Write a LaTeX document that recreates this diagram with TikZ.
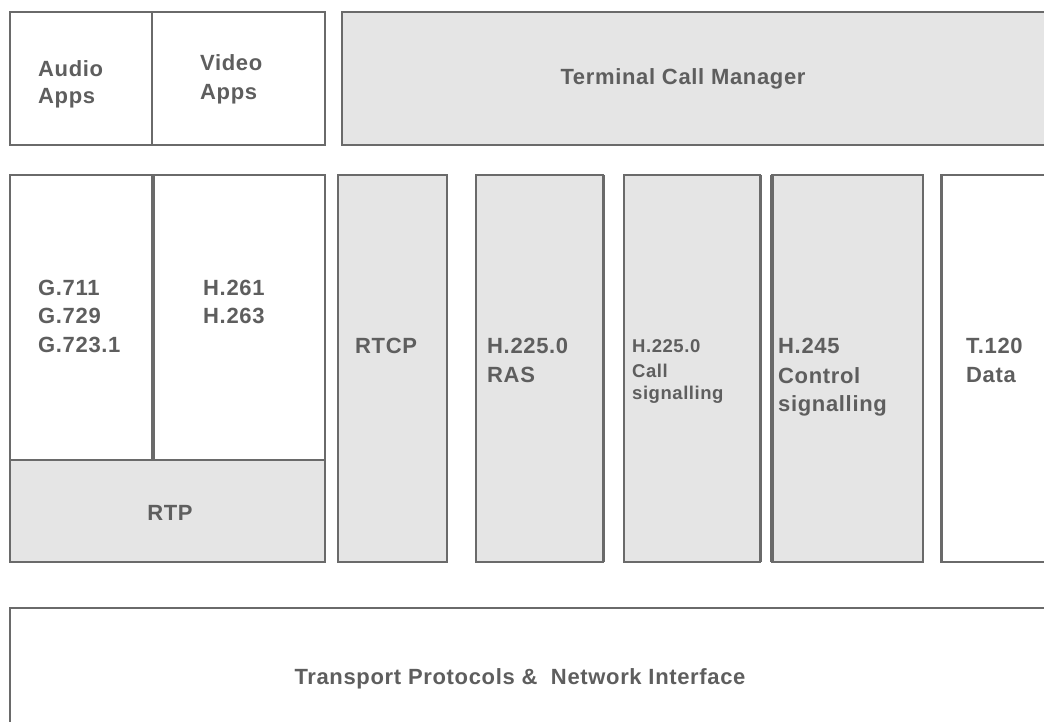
\documentclass[tikz,border=0pt]{standalone}
\usepackage{fontspec}
\newfontfamily\lblfont{Liberation Sans}[LetterSpace=3]
\definecolor{edge}{HTML}{6A6A6A}
\definecolor{panel}{HTML}{E5E5E5}
\definecolor{ink}{HTML}{5E5E5E}
\begin{document}
\begin{tikzpicture}[x=1pt,y=-1pt,
  box/.style={draw=edge, line width=2.4pt, anchor=north west, inner sep=0pt, outer sep=0pt},
  plain/.style={box, fill=white},
  shaded/.style={box, fill=panel},
  heavy/.style={draw=edge, line width=4pt},
  midedge/.style={draw=edge, line width=3pt},
  lbl/.style={inner sep=0pt, text=ink, font=\lblfont\bfseries\fontsize{22}{26}\selectfont},
  small/.style={lbl, font=\lblfont\bfseries\fontsize{18.5}{22}\selectfont}]
\useasboundingbox (0,0) rectangle (1044,722);
\clip (0,0) rectangle (1044,722);

% application row
\node[plain,  minimum width=142pt, minimum height=133pt] (audio) at (10,12) {};
\node[plain,  minimum width=173pt, minimum height=133pt] (video) at (152,12) {};
\node[shaded, minimum width=708pt, minimum height=133pt] (tcm)   at (342,12) {};

% protocol stack row
\node[plain,  minimum width=143pt, minimum height=285pt] (audcodec) at (10,175) {};
\node[plain,  minimum width=172pt, minimum height=285pt] (vidcodec) at (153,175) {};
\node[shaded, minimum width=315pt, minimum height=102pt] (rtp)      at (10,460) {};
\node[shaded, minimum width=109pt, minimum height=387pt] (rtcp)     at (338,175) {};
\node[shaded, minimum width=127pt, minimum height=387pt] (ras)      at (476,175) {};
\node[shaded, minimum width=136pt, minimum height=387pt] (callsig)  at (624,175) {};
\node[shaded, minimum width=151pt, minimum height=387pt] (ctrlsig)  at (772,175) {};
\node[plain,  minimum width=109pt, minimum height=387pt] (data)     at (941,175) {};

% transport layer
\node[plain, minimum width=1040pt, minimum height=122pt] (transport) at (10,608) {};

% heavier edges
\draw[heavy]   (audcodec.north east) -- (audcodec.south east);
\draw[heavy]   (ctrlsig.north west) -- (ctrlsig.south west);
\draw[midedge] (ras.north east) -- (ras.south east);
\draw[midedge] (callsig.north east) -- (callsig.south east);
\draw[midedge] (data.north west) -- (data.south west);

% labels
\node[lbl, anchor=base west] (tA1) at (38,77)  {Audio};
\node[lbl, anchor=base west] (tA2) at (38,104) {Apps};
\node[lbl, anchor=base west] (tV1) at (200,71) {Video};
\node[lbl, anchor=base west] (tV2) at (200,100) {Apps};
\node[lbl, anchor=base] (tT) at (683,85) {Terminal Call Manager};

\node[lbl, anchor=base west] (g1) at (38,295) {G.711};
\node[lbl, anchor=base west] (g2) at (38,323) {G.729};
\node[lbl, anchor=base west] (g3) at (38,352) {G.723.1};
\node[lbl, anchor=base west] (h1) at (203,295) {H.261};
\node[lbl, anchor=base west] (h2) at (203,323) {H.263};

\node[lbl, anchor=base] (tR) at (170,520) {RTP};
\node[lbl, anchor=base west] (tC) at (355,353) {RTCP};
\node[lbl, anchor=base west] (r1) at (487,353) {H.225.0};
\node[lbl, anchor=base west] (r2) at (487,382) {RAS};
\node[small, anchor=base west] (c1) at (632,352) {H.225.0};
\node[small, anchor=base west] (c2) at (632,377) {Call};
\node[small, anchor=base west] (c3) at (632,399) {signalling};
\node[lbl, anchor=base west] (k1) at (778,353) {H.245};
\node[lbl, anchor=base west] (k2) at (778,383) {Control};
\node[lbl, anchor=base west] (k3) at (778,411) {signalling};
\node[lbl, anchor=base west] (d1) at (966,353) {T.120};
\node[lbl, anchor=base west] (d2) at (966,382) {Data};

\node[lbl, anchor=base] (tN) at (520,684) {Transport Protocols \&\ \ Network Interface};
\end{tikzpicture}
\end{document}
